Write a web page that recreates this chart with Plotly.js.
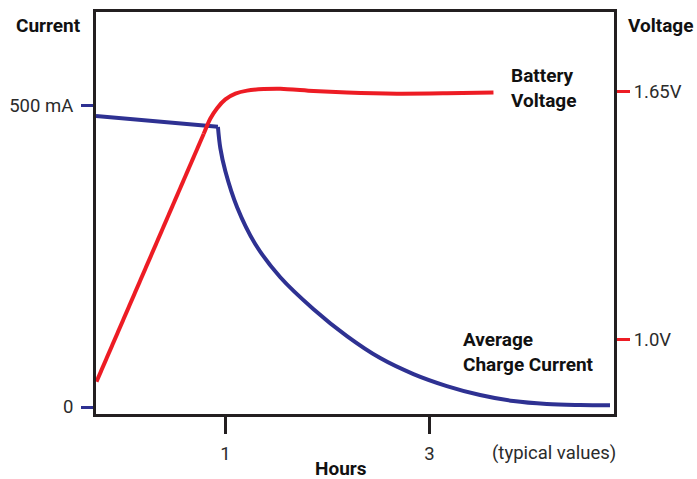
<!DOCTYPE html>
<html>
<head>
<meta charset="utf-8">
<script src="https://cdn.plot.ly/plotly-3.0.1.min.js"></script>
<style>html,body{margin:0;padding:0;background:#fff;}#chart{width:697px;height:479px;}</style>
</head>
<body>
<div id="chart"></div>
<script>
// ---- data: average charge current (hours, mA) ----
const currentHours = [-0.268, 0.927, 0.951, 1.000, 1.115, 1.294, 1.538, 1.864, 2.191, 2.517, 2.843, 3.170, 3.496, 3.822, 4.149, 4.475, 4.769];
const currentMA    = [482.8, 464.9, 429.2, 391.1, 331.5, 270.1, 215.4, 162.4, 117.7, 81.2, 54.7, 34.8, 19.9, 9.9, 5.0, 3.3, 2.8];
// ---- data: battery voltage (hours, V) ----
const voltageHours = [-0.263, 0.266, 0.788, 0.853, 0.919, 1.000, 1.098, 1.212, 1.375, 1.538, 1.864, 2.191, 2.681, 3.170, 3.627];
const voltageV     = [0.889, 1.215, 1.539, 1.579, 1.606, 1.629, 1.644, 1.652, 1.656, 1.657, 1.651, 1.647, 1.644, 1.645, 1.647];
// ---- ticks ----
const xTickVals = [1, 3];
const xTickText = ['1', '3'];
const iTickVals = [0, 500];
const iTickText = ['0', '500 mA'];
const vTickVals = [1.0, 1.65];
const vTickText = ['1.0V', '1.65V'];

const BLUE = '#2e3192', RED = '#ed1c24', INK = '#231f20', TXT = '#2b2b2b';
const W = 697, H = 479, L = 95.5, R = 83, T = 11.5, B = 65;
const pw = W - L - R, ph = H - T - B;
const px = x => (x - L) / pw;
const py = y => 1 - (y - T) / ph;
const FONT = 'Roboto, "Liberation Sans", Arial, sans-serif';

// straight phases drawn linear, curved phases drawn as splines
const iKnee = 1;   // end of constant-current phase
const vKnee = 2;   // end of the linear voltage rise
const traces = [
  { x: currentHours.slice(0, iKnee + 1), y: currentMA.slice(0, iKnee + 1), type: 'scatter', mode: 'lines', yaxis: 'y',
    line: { color: BLUE, width: 4, shape: 'linear' }, hoverinfo: 'skip' },
  { x: currentHours.slice(iKnee), y: currentMA.slice(iKnee), type: 'scatter', mode: 'lines', yaxis: 'y',
    line: { color: BLUE, width: 4, shape: 'spline', smoothing: 1 }, hoverinfo: 'skip' },
  { x: voltageHours.slice(0, vKnee + 1), y: voltageV.slice(0, vKnee + 1), type: 'scatter', mode: 'lines', yaxis: 'y2',
    line: { color: RED, width: 4, shape: 'linear' }, hoverinfo: 'skip' },
  { x: voltageHours.slice(vKnee), y: voltageV.slice(vKnee), type: 'scatter', mode: 'lines', yaxis: 'y2',
    line: { color: RED, width: 4, shape: 'spline', smoothing: 0.8 }, hoverinfo: 'skip' }
];

const bold = { family: FONT, size: 19, color: '#111' };
const reg = { family: FONT, size: 18.5, color: TXT };

const layout = {
  width: W, height: H,
  margin: { l: L, r: R, t: T, b: B, pad: 0 },
  paper_bgcolor: '#fff', plot_bgcolor: '#fff',
  showlegend: false,
  font: reg,
  xaxis: {
    range: [-0.2677, 4.808], tickvals: xTickVals, ticktext: xTickText,
    ticks: 'outside', ticklen: 17, tickwidth: 2.5, tickcolor: INK,
    showline: true, linecolor: INK, linewidth: 3, mirror: true,
    showgrid: false, zeroline: false, tickfont: reg, ticklabelstandoff: 4, fixedrange: true
  },
  yaxis: {
    range: [-11.6, 655.5], tickvals: iTickVals, ticktext: iTickText,
    ticks: 'outside', ticklen: 12, tickwidth: 3, tickcolor: BLUE,
    showline: true, linecolor: INK, linewidth: 3,
    showgrid: false, zeroline: false, tickfont: reg, ticklabelstandoff: 4, fixedrange: true
  },
  yaxis2: {
    range: [0.8044, 1.858], tickvals: vTickVals, ticktext: vTickText,
    overlaying: 'y', side: 'right',
    ticks: 'outside', ticklen: 13, tickwidth: 3, tickcolor: RED,
    showline: true, linecolor: INK, linewidth: 3,
    showgrid: false, zeroline: false, tickfont: reg, fixedrange: true
  },
  annotations: [
    { text: '<b>Current</b>', xref: 'paper', yref: 'paper', x: px(48), y: py(25), xanchor: 'center', yanchor: 'middle', showarrow: false, font: bold, borderpad: 0 },
    { text: '<b>Voltage</b>', xref: 'paper', yref: 'paper', x: px(661), y: py(25), xanchor: 'center', yanchor: 'middle', showarrow: false, font: bold, borderpad: 0 },
    { text: '<b>Hours</b>', xref: 'paper', yref: 'paper', x: px(341), y: py(469), xanchor: 'center', yanchor: 'middle', showarrow: false, font: bold, borderpad: 0 },
    { text: '(typical values)', xref: 'paper', yref: 'paper', x: px(554), y: py(453), xanchor: 'center', yanchor: 'middle', showarrow: false, font: reg, borderpad: 0 },
    { text: '<b>Battery<br>Voltage</b>', xref: 'paper', yref: 'paper', x: px(510), y: py(88), xanchor: 'left', yanchor: 'middle', align: 'left', showarrow: false, font: bold, borderpad: 0 },
    { text: '<b>Average<br>Charge Current</b>', xref: 'paper', yref: 'paper', x: px(462), y: py(352), xanchor: 'left', yanchor: 'middle', align: 'left', showarrow: false, font: bold, borderpad: 0 }
  ]
};

Plotly.newPlot('chart', traces, layout, { staticPlot: true, displayModeBar: false });
</script>
</body>
</html>
